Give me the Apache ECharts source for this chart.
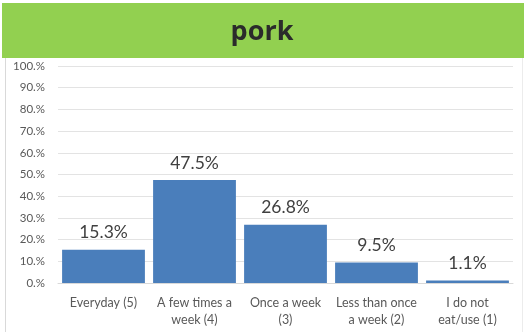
<!DOCTYPE html>
<html>
<head>
<meta charset="utf-8">
<script src="https://cdn.jsdelivr.net/npm/echarts@6/dist/echarts.min.js"></script>
<style>
  html, body { margin: 0; padding: 0; background: #ffffff; }
  #chart { width: 524px; height: 332px; }
</style>
</head>
<body>
<div id="chart"></div>
<script>
// Frequency of pork consumption, share of respondents
const categories = ['Everyday (5)', 'A few times a\nweek (4)', 'Once a week\n(3)', 'Less than once\na week (2)', 'I do not\neat/use (1)'];
const shares = [15.3, 47.5, 26.8, 9.5, 1.1];
const chartTitle = 'pork';

const bodyFont = 'Lato, "Open Sans", "DejaVu Sans", sans-serif';

const chart = echarts.init(document.getElementById('chart'), null, { renderer: 'canvas' });

chart.setOption({
  animation: false,
  backgroundColor: '#ffffff',
  graphic: [
    {
      type: 'rect',
      left: 2, top: 3,
      shape: { width: 522, height: 55 },
      style: { fill: '#92d050' },
      z: 0
    },
    {
      type: 'text',
      left: 'center', top: 19,
      style: {
        text: chartTitle,
        font: 'bold 27px "Open Sans", "DejaVu Sans", sans-serif',
        fill: '#2b2b2b'
      },
      z: 1
    },
    {
      type: 'line',
      shape: { x1: 5.5, y1: 58, x2: 5.5, y2: 332 },
      style: { stroke: '#d9d9d9', lineWidth: 1 }
    },
    {
      type: 'line',
      shape: { x1: 522.5, y1: 58, x2: 522.5, y2: 332 },
      style: { stroke: '#ececec', lineWidth: 1 }
    }
  ],
  grid: { left: 58, right: 11, top: 66, bottom: 49 },
  xAxis: {
    type: 'category',
    data: categories,
    axisLine: { show: true, lineStyle: { color: '#d9d9d9' } },
    axisTick: { show: false },
    axisLabel: {
      color: '#595959',
      fontSize: 12.5,
      lineHeight: 17,
      margin: 11,
      interval: 0,
      fontFamily: bodyFont
    }
  },
  yAxis: {
    type: 'value',
    min: 0, max: 100, interval: 10,
    axisLine: { show: false },
    axisTick: { show: false },
    splitLine: { lineStyle: { color: '#e3e3e3', width: 1 } },
    axisLabel: {
      color: '#595959',
      fontSize: 11.5,
      margin: 13,
      fontFamily: bodyFont,
      formatter: v => v.toFixed(1).replace('.0', '.') + '%'
    }
  },
  series: [{
    type: 'bar',
    data: shares,
    barCategoryGap: '9%',
    itemStyle: { color: '#4a7ebb' },
    label: {
      show: true,
      position: 'top',
      distance: 8,
      color: '#404040',
      fontSize: 17.5,
      fontFamily: bodyFont,
      formatter: p => p.value.toFixed(1) + '%'
    }
  }]
});
</script>
</body>
</html>
